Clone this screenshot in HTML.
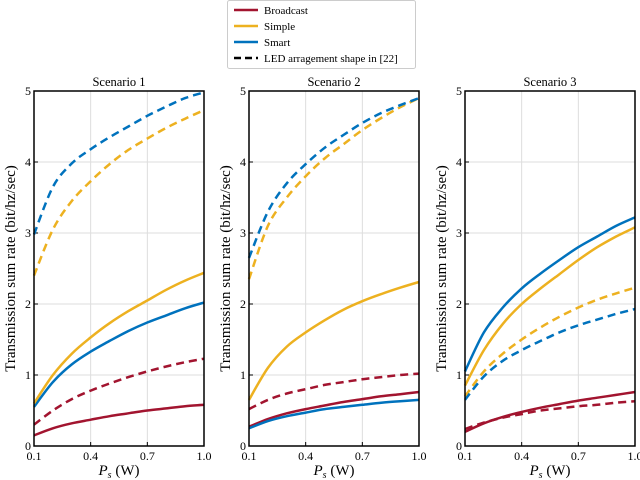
<!DOCTYPE html>
<html><head><meta charset="utf-8"><style>
body{margin:0;background:#fff;}
svg{display:block;font-family:"Liberation Serif",serif;}
</style></head><body>
<svg id="chart" width="640" height="480" viewBox="0 0 640 480" xmlns="http://www.w3.org/2000/svg">
<g id="legend">
<rect x="227.5" y="0.5" width="188" height="68" fill="#fff" stroke="#ccc" rx="2"/>
<g><line x1="234" y1="10" x2="258" y2="10" stroke="#a2142f" stroke-width="2.5"/><text x="264" y="14" font-size="11">Broadcast</text></g>
<g><line x1="234" y1="26" x2="258" y2="26" stroke="#edb120" stroke-width="2.5"/><text x="264" y="30" font-size="11">Simple</text></g>
<g><line x1="234" y1="42" x2="258" y2="42" stroke="#0072bd" stroke-width="2.5"/><text x="264" y="46" font-size="11">Smart</text></g>
<g><line x1="234" y1="58" x2="258" y2="58" stroke="#000" stroke-width="2.5" stroke-dasharray="7,4"/><text x="264" y="62" font-size="11">LED arragement shape in [22]</text></g>
</g>
</svg>
<script>
const xVals=[0.1,0.2,0.3,0.4,0.5,0.6,0.7,0.8,0.9,1.0];
const xTicks=[0.1,0.4,0.7,1.0];
const xTickLabels=["0.1","0.4","0.7","1.0"];
const yTicks=[0,1,2,3,4,5];
const titles=["Scenario 1","Scenario 2","Scenario 3"];
const s1BroadcastSolid=[0.15,0.25,0.32,0.37,0.42,0.46,0.50,0.53,0.56,0.58];
const s1BroadcastDash=[0.3,0.5,0.66,0.78,0.88,0.97,1.05,1.12,1.18,1.23];
const s1SimpleSolid=[0.6,1.0,1.3,1.53,1.73,1.9,2.05,2.2,2.33,2.44];
const s1SmartSolid=[0.55,0.9,1.15,1.33,1.48,1.62,1.74,1.84,1.94,2.02];
const s1SimpleDash=[2.4,3.05,3.45,3.73,3.97,4.17,4.33,4.48,4.61,4.73];
const s1SmartDash=[2.98,3.65,3.98,4.18,4.35,4.5,4.65,4.78,4.9,4.98];
const s2BroadcastSolid=[0.27,0.38,0.46,0.52,0.57,0.62,0.66,0.70,0.73,0.76];
const s2BroadcastDash=[0.52,0.65,0.74,0.8,0.86,0.9,0.94,0.97,1.0,1.02];
const s2SimpleSolid=[0.65,1.1,1.4,1.6,1.77,1.92,2.04,2.14,2.23,2.31];
const s2SmartSolid=[0.25,0.35,0.42,0.47,0.52,0.55,0.58,0.61,0.63,0.65];
const s2SimpleDash=[2.35,3.1,3.5,3.8,4.05,4.25,4.45,4.62,4.77,4.9];
const s2SmartDash=[2.65,3.3,3.7,3.97,4.2,4.38,4.55,4.69,4.8,4.9];
const s3BroadcastSolid=[0.2,0.32,0.41,0.48,0.54,0.59,0.64,0.68,0.72,0.76];
const s3BroadcastDash=[0.24,0.33,0.4,0.45,0.5,0.53,0.56,0.58,0.61,0.63];
const s3SimpleSolid=[0.85,1.35,1.72,2.0,2.22,2.42,2.62,2.8,2.95,3.08];
const s3SmartSolid=[1.05,1.6,1.95,2.22,2.43,2.62,2.8,2.95,3.1,3.22];
const s3SimpleDash=[0.7,1.05,1.3,1.5,1.67,1.82,1.95,2.06,2.15,2.23];
const s3SmartDash=[0.65,0.98,1.2,1.35,1.48,1.6,1.7,1.78,1.86,1.93];
const panelSeries=[
 [[s1BroadcastDash,"broadcast",1],[s1BroadcastSolid,"broadcast",0],[s1SmartSolid,"smart",0],[s1SimpleSolid,"simple",0],[s1SimpleDash,"simple",1],[s1SmartDash,"smart",1]],
 [[s2BroadcastDash,"broadcast",1],[s2BroadcastSolid,"broadcast",0],[s2SmartSolid,"smart",0],[s2SimpleSolid,"simple",0],[s2SimpleDash,"simple",1],[s2SmartDash,"smart",1]],
 [[s3BroadcastDash,"broadcast",1],[s3BroadcastSolid,"broadcast",0],[s3SimpleDash,"simple",1],[s3SmartDash,"smart",1],[s3SimpleSolid,"simple",0],[s3SmartSolid,"smart",0]]
];
const colors={broadcast:"#a2142f",simple:"#edb120",smart:"#0072bd"};
const NS="http://www.w3.org/2000/svg";
const svg=document.getElementById("chart");
const lefts=[34,249,465], W=170, top0=91, bot=446;
function mk(t,a,p){const e=document.createElementNS(NS,t);for(const k in a)e.setAttribute(k,a[k]);(p||svg).appendChild(e);return e;}
function smooth(pts){
 let d="M"+pts[0][0].toFixed(1)+","+pts[0][1].toFixed(1);
 for(let i=0;i<pts.length-1;i++){
  const p0=pts[Math.max(0,i-1)],p1=pts[i],p2=pts[i+1],p3=pts[Math.min(pts.length-1,i+2)];
  const c1=[p1[0]+(p2[0]-p0[0])/6,p1[1]+(p2[1]-p0[1])/6];
  const c2=[p2[0]-(p3[0]-p1[0])/6,p2[1]-(p3[1]-p1[1])/6];
  d+="C"+c1.map(v=>v.toFixed(1)).join(",")+" "+c2.map(v=>v.toFixed(1)).join(",")+" "+p2[0].toFixed(1)+","+p2[1].toFixed(1);
 }
 return d;
}
lefts.forEach((L,pi)=>{
 const xs=v=>L+(v-0.1)/0.9*W;
 const ys=v=>bot-v/5*(bot-top0);
 const g=mk("g",{});
 
 
 xTicks.forEach((t,i)=>{
  const l=mk("line",{x1:xs(t),x2:xs(t),y1:top0,y2:bot,stroke:"#ddd","stroke-width":1},g);
  
  
  mk("line",{x1:xs(t),x2:xs(t),y1:bot,y2:bot-4,stroke:"#000"},g);
  const tx=mk("text",{x:xs(t),y:bot+14,"font-size":12,"text-anchor":"middle"},g);tx.textContent=xTickLabels[i];
  
  
 });
 yTicks.forEach(t=>{
  if(t>0&&t<5){const l=mk("line",{x1:L,x2:L+W,y1:ys(t),y2:ys(t),stroke:"#ddd","stroke-width":1},g);
  
  }
  mk("line",{x1:L,x2:L+4,y1:ys(t),y2:ys(t),stroke:"#000"},g);
  const tx=mk("text",{x:L-3,y:ys(t)+4,"font-size":12,"text-anchor":"end"},g);tx.textContent=t;
  
  
 });
 panelSeries[pi].forEach(([arr,name,dash])=>{
  const d=smooth(arr.map((v,i)=>[xs(xVals[i]),ys(v)]));
  const p=mk("path",{d:d,fill:"none",stroke:colors[name],"stroke-width":2.5,"stroke-linejoin":"round"},g);
  if(dash)p.setAttribute("stroke-dasharray","8,5");
  
  
 });
 const fr=mk("rect",{x:L,y:top0,width:W,height:bot-top0,fill:"none",stroke:"#000","stroke-width":1.5},g);
 
 
 const ti=mk("text",{x:L+W/2,y:top0-5,"font-size":12.5,"text-anchor":"middle"},g);ti.textContent=titles[pi];
 
 
 const yl=mk("text",{x:0,y:0,"font-size":15,"text-anchor":"middle",transform:"translate("+(L-19)+","+((top0+bot)/2)+") rotate(-90)"},g);
 yl.textContent="Transmission sum rate (bit/hz/sec)";
 
 
 const xl=mk("text",{x:L+W/2,y:475,"font-size":15,"text-anchor":"middle"},g);
 xl.innerHTML='<tspan font-style="italic">P</tspan><tspan font-style="italic" font-size="10" dy="3">s</tspan><tspan dy="-3"> (W)</tspan>';
 
 
});
</script>
</body></html>
